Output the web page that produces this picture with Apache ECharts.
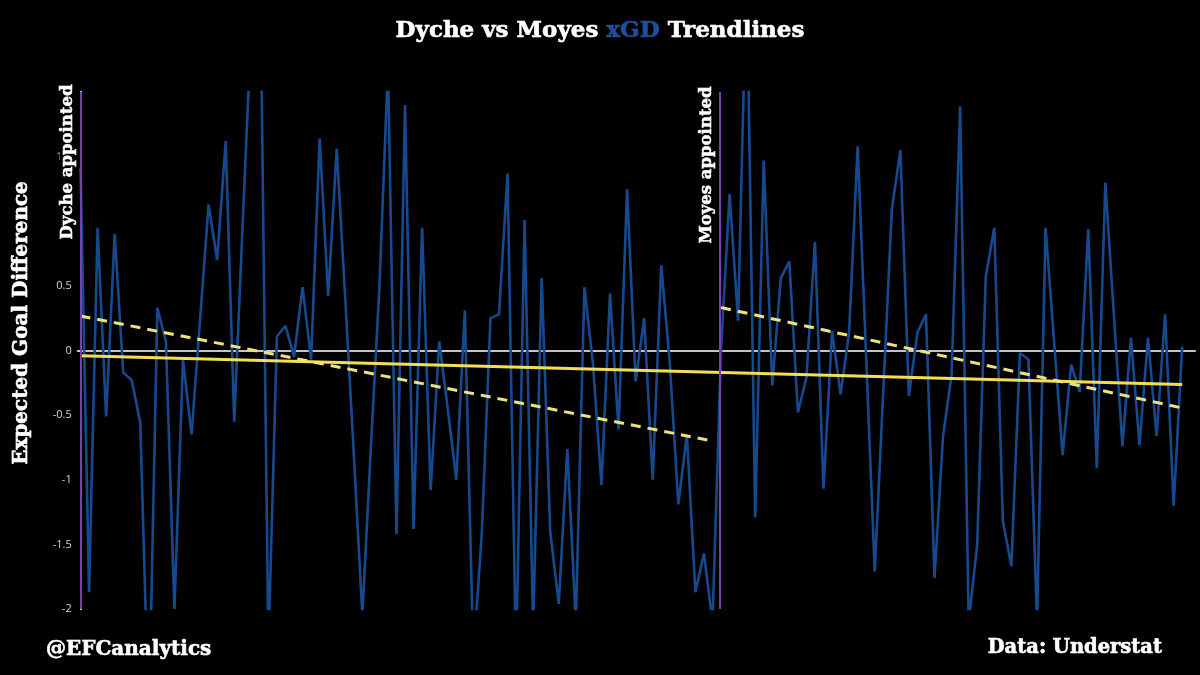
<!DOCTYPE html>
<html>
<head>
<meta charset="utf-8">
<script src="https://cdn.jsdelivr.net/npm/echarts@6/dist/echarts.min.js"></script>
<style>
html,body{margin:0;padding:0;background:#000;}
#chart{width:1200px;height:675px;}
</style>
</head>
<body>
<div id="chart"></div>
<script>
// xGD per match, Dyche era (matches 0..74)
const xgdDyche = [1.41, -1.87, 0.95, -0.51, 0.90, -0.17, -0.23, -0.56, -2.9, 0.33,
  0.07, -2.0, -0.07, -0.65, 0.24, 1.13, 0.70, 1.62, -0.55, 1.0,
  2.5, 3.2, -2.3, 0.11, 0.19, -0.05, 0.49, -0.07, 1.64, 0.42,
  1.56, 0.4, -0.8, -2.05, -0.75, 0.49, 2.2, -1.42, 1.9, -1.38,
  0.95, -1.08, 0.07, -0.45, -1.0, 0.31, -2.38, -1.4, 0.25, 0.28,
  1.37, -2.4, 1.01, -2.15, 0.56, -1.4, -1.96, -0.76, -2.1, 0.49,
  -0.1, -1.04, 0.44, -0.61, 1.25, -0.24, 0.25, -1.0, 0.66, -0.1,
  -1.19, -0.65, -1.87, -1.57, -2.1];
// xGD per match, Moyes era (matches 75..129)
const xgdMoyes = [0.0, 1.21, 0.23, 3.0, -1.29, 1.47, -0.27, 0.56, 0.69, -0.48,
  -0.21, 0.84, -1.07, 0.15, -0.34, 0.14, 1.58, -0.06, -1.71, -0.31,
  1.09, 1.55, -0.35, 0.14, 0.28, -1.76, -0.66, -0.19, 1.89, -2.1,
  -1.50, 0.57, 0.95, -1.32, -1.67, -0.02, -0.07, -2.1, 0.95, 0.07,
  -0.81, -0.11, -0.32, 0.94, -0.91, 1.30, 0.28, -0.74, 0.10, -0.73,
  0.10, -0.66, 0.28, -1.20, 0.03];
// Trendline end points: [match index, value]
const dycheTrend = [[0, 0.267], [74, -0.70]];
const moyesTrend = [[75, 0.332], [129, -0.445]];
const overallTrend = [[0, -0.04], [129, -0.263]];
// Appointment markers (match index)
const appointments = [0.05, 74.85];
const yTicks = [-2, -1.5, -1, -0.5, 0, 0.5, 1, 1.5];

const xgd = xgdDyche.concat(xgdMoyes);
const blueData = xgd.map((v, i) => [i, v]);

const slab = '"DejaVu Serif", "Liberation Serif", serif';

const chart = echarts.init(document.getElementById('chart'));
chart.setOption({
  backgroundColor: '#000',
  animation: false,
  title: {
    text: '{w|Dyche vs Moyes }{b|xGD}{w| Trendlines}',
    left: 'center',
    top: 15,
    textStyle: {
      rich: {
        w: { color: '#fff', fontFamily: slab, fontWeight: 'bold', fontSize: 23,
             textBorderColor: '#fff', textBorderWidth: 0.6 },
        b: { color: '#1f4e9c', fontFamily: slab, fontWeight: 'bold', fontSize: 23,
             textBorderColor: '#1f4e9c', textBorderWidth: 0.6 }
      }
    }
  },
  grid: { left: 77.7, right: 5, top: 92, bottom: 66, containLabel: false },
  xAxis: {
    type: 'value',
    min: -0.33,
    max: 130.5,
    axisLine: { show: true, onZero: true, lineStyle: { color: '#c4c4c4', width: 2 } },
    axisTick: { show: false },
    axisLabel: { show: false },
    splitLine: { show: false }
  },
  yAxis: {
    type: 'value',
    min: -2,
    max: 2,
    interval: 0.5,
    axisLine: { show: true, lineStyle: { color: '#ffffff', width: 2 } },
    axisTick: { show: false },
    splitLine: { show: false },
    axisLabel: {
      color: '#d6d6d6',
      fontSize: 11,
      fontFamily: '"Open Sans", "Noto Sans", sans-serif',
      margin: 6,
      formatter: v => (yTicks.indexOf(v) >= 0 ? String(v) : '')
    }
  },
  series: [
    {
      type: 'line',
      data: blueData,
      showSymbol: false,
      clip: true,
      lineStyle: { color: '#17498f', width: 2.6 },
      z: 2,
      markLine: {
        silent: true,
        symbol: 'none',
        label: { show: false },
        lineStyle: { color: '#7b3fb5', width: 2, type: 'solid' },
        data: appointments.map(a => ({ xAxis: a }))
      }
    },
    {
      type: 'line',
      data: overallTrend,
      showSymbol: false,
      lineStyle: { color: '#f2df55', width: 3 },
      z: 3
    },
    {
      type: 'line',
      data: dycheTrend,
      showSymbol: false,
      lineStyle: { color: '#efe27a', width: 3, type: [10, 7] },
      z: 4
    },
    {
      type: 'line',
      data: moyesTrend,
      showSymbol: false,
      lineStyle: { color: '#efe27a', width: 3, type: [10, 7] },
      z: 4
    }
  ],
  graphic: [
    {
      type: 'text', x: 22, y: 323, rotation: Math.PI / 2, z: 100,
      style: { text: 'Expected Goal Difference', fill: '#fff', font: 'bold 20px ' + slab,
        stroke: '#fff', lineWidth: 0.6,
        textAlign: 'center', textVerticalAlign: 'middle' }
    },
    {
      type: 'text', x: 68, y: 162, rotation: Math.PI / 2, z: 100,
      style: { text: 'Dyche appointed', fill: '#fff', font: 'bold 16.5px ' + slab,
        stroke: '#fff', lineWidth: 0.5,
        textAlign: 'center', textVerticalAlign: 'middle', backgroundColor: '#000', padding: [0, 1, 0, 1] }
    },
    {
      type: 'text', x: 707, y: 165, rotation: Math.PI / 2, z: 100,
      style: { text: 'Moyes appointed', fill: '#fff', font: 'bold 16.5px ' + slab,
        stroke: '#fff', lineWidth: 0.5,
        textAlign: 'center', textVerticalAlign: 'middle', backgroundColor: '#000', padding: [0, 1, 0, 1] }
    },
    {
      type: 'text', x: 46, y: 650, z: 100,
      style: { text: '@EFCanalytics', fill: '#fff', font: 'bold 20px ' + slab,
        stroke: '#fff', lineWidth: 0.6,
        textAlign: 'left', textVerticalAlign: 'middle' }
    },
    {
      type: 'text', x: 1162, y: 648, z: 100,
      style: { text: 'Data: Understat', fill: '#fff', font: 'bold 19.5px ' + slab,
        stroke: '#fff', lineWidth: 0.6,
        textAlign: 'right', textVerticalAlign: 'middle' }
    }
  ]
});
</script>
</body>
</html>
